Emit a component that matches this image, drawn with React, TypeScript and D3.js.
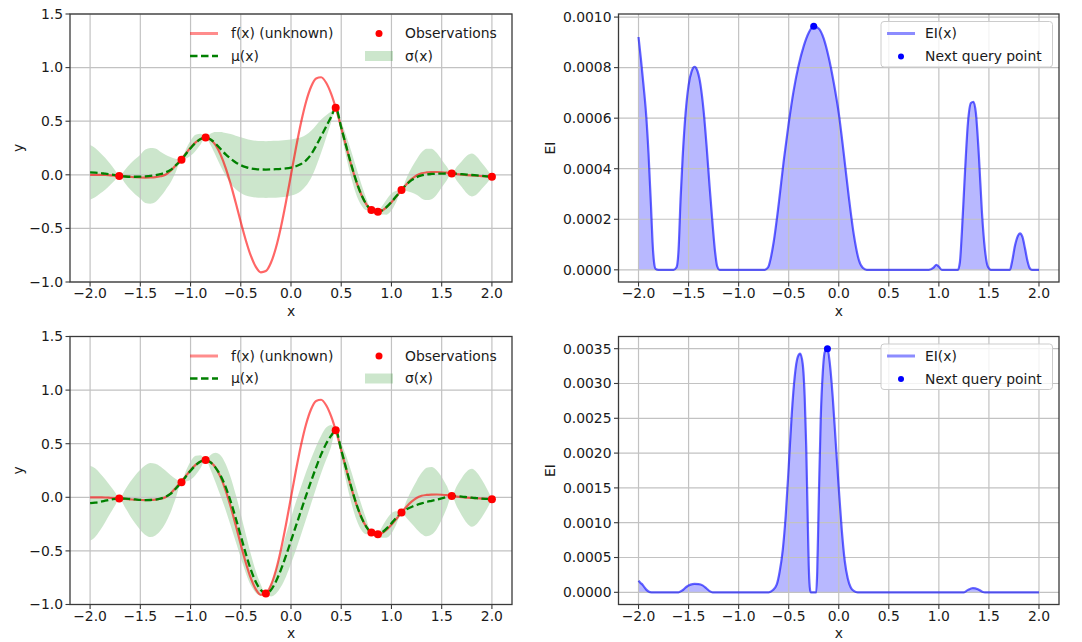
import React from "react";
import * as d3 from "d3";

// ---- objective function, sampled on a regular grid ----
const gridX = [
  -2, -1.95, -1.9, -1.85, -1.8, -1.75, -1.7, -1.65, -1.6, -1.55,
  -1.5, -1.45, -1.4, -1.35, -1.3, -1.25, -1.2, -1.15, -1.1, -1.05,
  -1, -0.95, -0.9, -0.85, -0.8, -0.75, -0.7, -0.65, -0.6, -0.55,
  -0.5, -0.45, -0.4, -0.35, -0.3, -0.25, -0.2, -0.15, -0.1, -0.05,
  0, 0.05, 0.1, 0.15, 0.2, 0.25, 0.3, 0.35, 0.4, 0.45,
  0.5, 0.55, 0.6, 0.65, 0.7, 0.75, 0.8, 0.85, 0.9, 0.95,
  1, 1.05, 1.1, 1.15, 1.2, 1.25, 1.3, 1.35, 1.4, 1.45,
  1.5, 1.55, 1.6, 1.65, 1.7, 1.75, 1.8, 1.85, 1.9, 1.95,
  2,
];
const fTrue = [
  0, 0, -0.001, -0.002, -0.005, -0.008, -0.011, -0.015, -0.019, -0.023,
  -0.025, -0.026, -0.025, -0.022, -0.014, 0.0, 0.035, 0.085, 0.138, 0.195,
  0.253, 0.302, 0.335, 0.347, 0.329, 0.276, 0.186, 0.063, -0.089, -0.261,
  -0.44, -0.61, -0.755, -0.859, -0.91, -0.898, -0.821, -0.681, -0.487, -0.254,
  0, 0.254, 0.487, 0.681, 0.821, 0.898, 0.91, 0.859, 0.755, 0.61,
  0.44, 0.261, 0.089, -0.063, -0.186, -0.276, -0.329, -0.348, -0.337, -0.304,
  -0.256, -0.2, -0.142, -0.088, -0.041, -0.006, 0.014, 0.022, 0.025, 0.026,
  0.024, 0.02, 0.012, 0.006, 0.001, -0.003, -0.006, -0.009, -0.012, -0.015,
  -0.018,
];

// ---- GP posterior (mean / std) on the prediction points ----
const gpX = [
  -2, -1.95, -1.9, -1.85, -1.8, -1.75, -1.71, -1.65, -1.6, -1.55,
  -1.5, -1.45, -1.4, -1.35, -1.3, -1.25, -1.2, -1.15, -1.09, -1.05,
  -1, -0.95, -0.9, -0.85, -0.8, -0.75, -0.7, -0.65, -0.6, -0.55,
  -0.5, -0.45, -0.4, -0.35, -0.3, -0.25, -0.2, -0.15, -0.1, -0.05,
  0, 0.05, 0.1, 0.15, 0.2, 0.25, 0.3, 0.35, 0.4, 0.445,
  0.5, 0.55, 0.6, 0.65, 0.7, 0.75, 0.8, 0.83, 0.865, 0.9,
  0.95, 1, 1.05, 1.1, 1.15, 1.2, 1.25, 1.3, 1.35, 1.4,
  1.45, 1.5, 1.55, 1.6, 1.65, 1.7, 1.75, 1.8, 1.85, 1.9,
  1.95, 2,
];
const muTop = [
  0.022, 0.02, 0.016, 0.01, 0.004, -0.004, -0.011, -0.016, -0.018, -0.018,
  -0.017, -0.014, -0.01, -0.004, 0.006, 0.022, 0.045, 0.085, 0.14, 0.19,
  0.248, 0.298, 0.333, 0.347, 0.33, 0.29, 0.24, 0.19, 0.15, 0.115,
  0.09, 0.072, 0.06, 0.053, 0.05, 0.049, 0.05, 0.052, 0.055, 0.06,
  0.068, 0.08, 0.1, 0.135, 0.19, 0.27, 0.36, 0.45, 0.54, 0.625,
  0.44, 0.265, 0.095, -0.06, -0.185, -0.275, -0.329, -0.342, -0.345, -0.336,
  -0.302, -0.254, -0.198, -0.142, -0.09, -0.05, -0.022, -0.005, 0.004, 0.008,
  0.01, 0.011, 0.012, 0.012, 0.01, 0.006, 0.002, -0.002, -0.006, -0.01,
  -0.014, -0.018,
];
const sdTop = [
  0.255, 0.23, 0.19, 0.15, 0.1, 0.045, 0, 0.065, 0.12, 0.165,
  0.205, 0.25, 0.26, 0.25, 0.21, 0.165, 0.12, 0.065, 0, 0.04,
  0.07, 0.075, 0.05, 0, 0.055, 0.11, 0.16, 0.2, 0.23, 0.25,
  0.26, 0.265, 0.265, 0.265, 0.265, 0.265, 0.265, 0.265, 0.265, 0.265,
  0.262, 0.258, 0.25, 0.238, 0.22, 0.192, 0.155, 0.105, 0.05, 0,
  0.058, 0.1, 0.125, 0.125, 0.1, 0.055, 0, 0.02, 0, 0.035,
  0.07, 0.08, 0.05, 0, 0.06, 0.115, 0.165, 0.215, 0.24, 0.235,
  0.195, 0.13, 0.065, 0, 0.065, 0.12, 0.175, 0.2, 0.175, 0.12,
  0.065, 0,
];
const muBottom = [
  -0.055, -0.05, -0.042, -0.032, -0.022, -0.015, -0.011, -0.012, -0.016, -0.02,
  -0.024, -0.026, -0.025, -0.021, -0.012, 0.004, 0.032, 0.078, 0.14, 0.19,
  0.248, 0.298, 0.333, 0.347, 0.325, 0.275, 0.2, 0.095, -0.04, -0.195,
  -0.36, -0.525, -0.675, -0.79, -0.865, -0.898, -0.865, -0.785, -0.675, -0.545,
  -0.405, -0.265, -0.125, 0.015, 0.15, 0.28, 0.4, 0.5, 0.575, 0.625,
  0.44, 0.265, 0.095, -0.06, -0.185, -0.275, -0.329, -0.342, -0.345, -0.332,
  -0.292, -0.243, -0.19, -0.142, -0.112, -0.09, -0.072, -0.057, -0.044, -0.033,
  -0.022, -0.01, 0.002, 0.012, 0.01, 0.006, 0.001, -0.004, -0.008, -0.012,
  -0.015, -0.018,
];
const sdBottom = [
  0.35, 0.32, 0.265, 0.2, 0.13, 0.06, 0, 0.085, 0.16, 0.225,
  0.28, 0.325, 0.345, 0.335, 0.3, 0.245, 0.175, 0.095, 0, 0.045,
  0.085, 0.09, 0.06, 0, 0.07, 0.14, 0.19, 0.215, 0.225, 0.22,
  0.205, 0.18, 0.145, 0.1, 0.05, 0, 0.06, 0.115, 0.16, 0.195,
  0.215, 0.225, 0.225, 0.22, 0.21, 0.195, 0.175, 0.15, 0.1, 0,
  0.07, 0.12, 0.145, 0.145, 0.12, 0.07, 0, 0.025, 0, 0.045,
  0.085, 0.095, 0.06, 0, 0.08, 0.155, 0.225, 0.285, 0.32, 0.315,
  0.275, 0.2, 0.105, 0, 0.095, 0.175, 0.24, 0.27, 0.24, 0.175,
  0.095, 0,
];

// ---- observations ----
const obsTopX = [-1.71, -1.09, -0.85, 0.445, 0.8, 0.865, 1.1, 1.6, 2.0];
const obsTopY = [-0.011, 0.14, 0.347, 0.625, -0.329, -0.345, -0.142, 0.012, -0.018];
const obsBottomX = [-1.71, -1.09, -0.85, -0.25, 0.445, 0.8, 0.865, 1.1, 1.6, 2.0];
const obsBottomY = [-0.011, 0.14, 0.347, -0.898, 0.625, -0.329, -0.345, -0.142, 0.012, -0.018];

// ---- expected improvement ----
const eiTopX = [
  -2, -1.975, -1.95, -1.925, -1.9, -1.875, -1.86, -1.845, -1.83, -1.8, -1.65,
  -1.62, -1.6, -1.58, -1.56, -1.53, -1.5, -1.47, -1.44, -1.41, -1.38, -1.35, -1.32,
  -1.29, -1.26, -1.235, -1.215, -1.19, -0.74,
  -0.72, -0.7, -0.68, -0.65, -0.6, -0.55, -0.5, -0.45, -0.4, -0.35, -0.3, -0.25,
  -0.2, -0.15, -0.1, -0.05, 0, 0.05, 0.1, 0.15, 0.2, 0.24, 0.28,
  0.9, 0.95, 0.975, 1.0, 1.03,
  1.19, 1.21, 1.23, 1.26, 1.29, 1.32, 1.345, 1.37, 1.4, 1.43, 1.46, 1.49, 1.52,
  1.71, 1.73, 1.76, 1.79, 1.81, 1.835, 1.86, 1.885, 1.91, 1.93, 2.0,
];
const eiTopY = [
  0.000921, 0.00083, 0.00073, 0.00062, 0.00046, 0.00025, 0.00011, 0.00003, 0.000004, 0, 0,
  0.00001, 0.00008, 0.00028, 0.00044, 0.00062, 0.00073, 0.000785, 0.000803, 0.000785, 0.00073, 0.00063, 0.00049,
  0.00033, 0.00018, 0.00007, 0.000015, 0, 0,
  0.000004, 0.000015, 0.000045, 0.00011, 0.00026, 0.00043, 0.00058, 0.00071, 0.00081, 0.000885, 0.000938, 0.000964,
  0.000955, 0.000915, 0.00084, 0.00074, 0.00062, 0.00046, 0.00029, 0.00014, 0.00004, 0.000008, 0,
  0, 0.00001, 0.00002, 0.000012, 0,
  0, 0.00003, 0.00015, 0.00038, 0.00058, 0.00066, 0.000665, 0.00062, 0.00045, 0.00023, 0.00008, 0.000012, 0,
  0, 0.00003, 0.000095, 0.000135, 0.000144, 0.00013, 0.000085, 0.000035, 0.000005, 0, 0,
];
const eiBottomX = [
  -2, -1.98, -1.96, -1.94, -1.92, -1.9, -1.87, -1.6,
  -1.56, -1.52, -1.48, -1.44, -1.4, -1.36, -1.32, -1.29, -1.26, -0.7,
  -0.66, -0.62, -0.59, -0.56, -0.53, -0.5, -0.47, -0.44, -0.41, -0.385, -0.36, -0.34,
  -0.325, -0.312, -0.3, -0.29, -0.28, -0.225,
  -0.215, -0.2, -0.18, -0.16, -0.14, -0.113, -0.09, -0.06, -0.03, 0, 0.03, 0.06,
  0.09, 0.12, 0.15, 0.19, 1.25, 1.29, 1.34, 1.39, 1.44, 1.46, 2.0,
];
const eiBottomY = [
  0.000167, 0.000135, 0.00011, 0.00007, 0.000035, 0.000012, 0, 0,
  0.00003, 0.00008, 0.00011, 0.00012, 0.000118, 0.0001, 0.000055, 0.000018, 0, 0,
  0.00003, 0.00011, 0.0003, 0.0006, 0.0011, 0.0018, 0.00255, 0.0031, 0.00338, 0.00343, 0.00328, 0.0028,
  0.0021, 0.0012, 0.0004, 0.00008, 0, 0,
  0.0003, 0.0013, 0.0025, 0.00315, 0.00345, 0.0035, 0.0033, 0.0028, 0.00215, 0.0015, 0.0009, 0.00045,
  0.0002, 0.00007, 0.00002, 0, 0, 0.000035, 0.00006, 0.000045, 0.000005, 0, 0,
];

// ---- ticks ----
const xTicks = [-2, -1.5, -1, -0.5, 0, 0.5, 1, 1.5, 2];
const gpYTicks = [-1, -0.5, 0, 0.5, 1, 1.5];
const eiTopYTicks = [0, 0.0002, 0.0004, 0.0006, 0.0008, 0.001];
const eiBottomYTicks = [0, 0.0005, 0.001, 0.0015, 0.002, 0.0025, 0.003, 0.0035];

const FONT = '"DejaVu Sans", Verdana, sans-serif';
const FS = 13.9;
const TXT = "#1a1a1a";
const GRID = "#c2c2c2";
const SPINE = "#3a3a3a";

type Box = { x0: number; x1: number; y0: number; y1: number };

function Axes({
  box, xs, ys, yTicks, yFmt, yLabel, children, under,
}: {
  box: Box;
  xs: d3.ScaleLinear<number, number>;
  ys: d3.ScaleLinear<number, number>;
  yTicks: number[];
  yFmt: (n: number) => string;
  yLabel: string;
  children?: React.ReactNode;
  under?: React.ReactNode;
}) {
  const xf = d3.format(".1f");
  const cy = (box.y0 + box.y1) / 2;
  return (
    <g>
      {under}
      {xTicks.map((t) => (
        <line key={"gx" + t} x1={xs(t)} x2={xs(t)} y1={box.y0} y2={box.y1} stroke={GRID} strokeWidth={1.2} />
      ))}
      {yTicks.map((t) => (
        <line key={"gy" + t} x1={box.x0} x2={box.x1} y1={ys(t)} y2={ys(t)} stroke={GRID} strokeWidth={1.2} />
      ))}
      {children}
      <rect x={box.x0} y={box.y0} width={box.x1 - box.x0} height={box.y1 - box.y0} fill="none" stroke={SPINE} strokeWidth={1.3} />
      {xTicks.map((t) => (
        <g key={"tx" + t}>
          <line x1={xs(t)} x2={xs(t)} y1={box.y1} y2={box.y1 + 4.5} stroke={SPINE} strokeWidth={1.1} />
          <text x={xs(t)} y={box.y1 + 16} textAnchor="middle" fontFamily={FONT} fontSize={FS} fill={TXT}>
            {xf(t)}
          </text>
        </g>
      ))}
      {yTicks.map((t) => (
        <g key={"ty" + t}>
          <line x1={box.x0 - 4.5} x2={box.x0} y1={ys(t)} y2={ys(t)} stroke={SPINE} strokeWidth={1.1} />
          <text x={box.x0 - 7} y={ys(t)} dy="0.35em" textAnchor="end" fontFamily={FONT} fontSize={FS} fill={TXT}>
            {yFmt(t)}
          </text>
        </g>
      ))}
      <text x={(box.x0 + box.x1) / 2} y={box.y1 + 33.5} textAnchor="middle" fontFamily={FONT} fontSize={FS} fill={TXT}>
        x
      </text>
      <text
        transform={`translate(${box.x0 - (yLabel === "y" ? 52 : 68)},${cy}) rotate(-90)`}
        dy="0.35em"
        textAnchor="middle"
        fontFamily={FONT}
        fontSize={FS}
        fill={TXT}
      >
        {yLabel}
      </text>
    </g>
  );
}

function GPPanel({ box, mu, sd, obsX, obsY }: { box: Box; mu: number[]; sd: number[]; obsX: number[]; obsY: number[] }) {
  const xs = d3.scaleLinear().domain([-2.2, 2.2]).range([box.x0, box.x1]);
  const ys = d3.scaleLinear().domain([-1, 1.5]).range([box.y1, box.y0]);
  const idx = d3.range(gpX.length);
  const band = d3
    .area<number>()
    .x((i) => xs(gpX[i]))
    .y0((i) => ys(mu[i] - sd[i]))
    .y1((i) => ys(mu[i] + sd[i]))
    .curve(d3.curveMonotoneX)(idx) as string;
  const fLine = d3
    .line<number>()
    .x((i) => xs(gridX[i]))
    .y((i) => ys(fTrue[i]))
    .curve(d3.curveMonotoneX)(d3.range(gridX.length)) as string;
  const muLine = d3
    .line<number>()
    .x((i) => xs(gpX[i]))
    .y((i) => ys(mu[i]))
    .curve(d3.curveMonotoneX)(idx) as string;
  const r1 = box.y0 + 19.5;
  const r2 = box.y0 + 42;
  return (
    <Axes
      box={box}
      xs={xs}
      ys={ys}
      yTicks={gpYTicks}
      yFmt={d3.format(".1f")}
      yLabel="y"
      under={<path d={band} fill="green" fillOpacity={0.2} />}
    >
      <path d={fLine} fill="none" stroke="red" strokeOpacity={0.6} strokeWidth={2.2} />
      <path d={muLine} fill="none" stroke="green" strokeWidth={2.3} strokeDasharray="7.5,3.5" />
      {obsX.map((x, i) => (
        <circle key={i} cx={xs(x)} cy={ys(obsY[i])} r={4} fill="red" />
      ))}
      {/* legend */}
      <g fontFamily={FONT} fontSize={FS} fill={TXT}>
        <line x1={190} x2={218} y1={r1} y2={r1} stroke="red" strokeOpacity={0.45} strokeWidth={3} />
        <text x={231} y={r1} dy="0.35em">f(x) (unknown)</text>
        <circle cx={379} cy={r1} r={3.5} fill="red" />
        <text x={405} y={r1} dy="0.35em">Observations</text>
        <line x1={190} x2={218} y1={r2} y2={r2} stroke="green" strokeWidth={2.3} strokeDasharray="7.5,3.5" />
        <text x={231} y={r2} dy="0.35em">μ(x)</text>
        <rect x={365} y={r2 - 5} width={28} height={10} fill="green" fillOpacity={0.2} />
        <text x={405} y={r2} dy="0.35em">σ(x)</text>
      </g>
    </Axes>
  );
}

function EIPanel({ box, eiX, eiY, yTicks }: { box: Box; eiX: number[]; eiY: number[]; yTicks: number[] }) {
  const xs = d3.scaleLinear().domain([-2.2, 2.2]).range([box.x0, box.x1]);
  const ymax = d3.max(eiY) as number;
  const ys = d3.scaleLinear().domain([-0.05 * ymax, 1.05 * ymax]).range([box.y1, box.y0]);
  const idx = d3.range(eiX.length);
  const area = d3
    .area<number>()
    .x((i) => xs(eiX[i]))
    .y0(ys(0))
    .y1((i) => ys(eiY[i]))
    .curve(d3.curveMonotoneX)(idx) as string;
  const line = d3
    .line<number>()
    .x((i) => xs(eiX[i]))
    .y((i) => ys(eiY[i]))
    .curve(d3.curveMonotoneX)(idx) as string;
  const best = d3.maxIndex(eiY);
  const r1 = box.y0 + 19.5;
  const r2 = box.y0 + 42.5;
  return (
    <Axes
      box={box}
      xs={xs}
      ys={ys}
      yTicks={yTicks}
      yFmt={d3.format(".4f")}
      yLabel="EI"
      under={<path d={area} fill="blue" fillOpacity={0.28} />}
    >
      <path d={line} fill="none" stroke="blue" strokeOpacity={0.6} strokeWidth={2.2} />
      <circle cx={xs(eiX[best])} cy={ys(eiY[best])} r={3.5} fill="blue" />
      <g fontFamily={FONT} fontSize={FS} fill={TXT}>
        <rect x={881} y={box.y0 + 7.5} width={171.5} height={45.5} rx={3} fill="white" fillOpacity={0.8} stroke="#cccccc" strokeWidth={1} />
        <line x1={887} x2={915} y1={r1} y2={r1} stroke="blue" strokeOpacity={0.45} strokeWidth={3} />
        <text x={925} y={r1} dy="0.35em">EI(x)</text>
        <circle cx={901} cy={r2} r={3} fill="blue" />
        <text x={925} y={r2} dy="0.35em">Next query point</text>
      </g>
    </Axes>
  );
}

export default function App() {
  const topRow = { y0: 14, y1: 282 };
  const botRow = { y0: 336.5, y1: 604.5 };
  const left = { x0: 70, x1: 512 };
  const right = { x0: 618.5, x1: 1059 };
  return (
    <svg
      width={1082}
      height={642}
      style={{ position: "absolute", left: 0, top: 0, background: "white" }}
    >
      <rect width={1082} height={642} fill="white" />
      <GPPanel box={{ ...left, ...topRow }} mu={muTop} sd={sdTop} obsX={obsTopX} obsY={obsTopY} />
      <EIPanel box={{ ...right, ...topRow }} eiX={eiTopX} eiY={eiTopY} yTicks={eiTopYTicks} />
      <GPPanel box={{ ...left, ...botRow }} mu={muBottom} sd={sdBottom} obsX={obsBottomX} obsY={obsBottomY} />
      <EIPanel box={{ ...right, ...botRow }} eiX={eiBottomX} eiY={eiBottomY} yTicks={eiBottomYTicks} />
    </svg>
  );
}
